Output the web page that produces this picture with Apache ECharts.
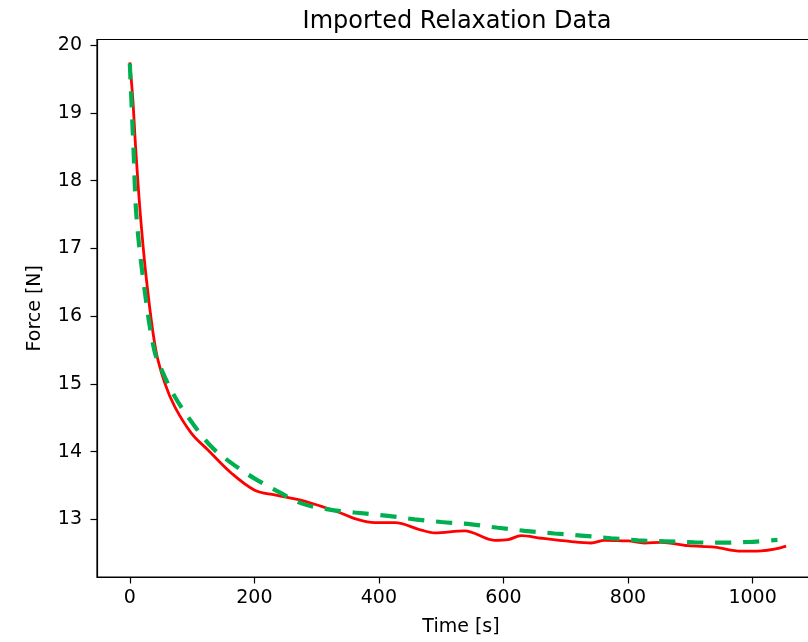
<!DOCTYPE html>
<html>
<head>
<meta charset="utf-8">
<script src="https://cdn.jsdelivr.net/npm/echarts@6/dist/echarts.min.js"></script>
<style>html,body{margin:0;padding:0;background:#fff;}#c{width:808px;height:642px;}</style>
</head>
<body>
<div id="c"></div>
<script>
const measuredTime = [0, 4.9, 9.6, 17.2, 27.3, 41.7, 56.2, 72.3, 99, 125.9, 163.3, 200.5, 232.7, 275.6, 307.7, 339.7, 361.1, 393.2, 425.3, 468.2, 489.5, 537.6, 585.8, 607.3, 628.6, 660.8, 708.9, 741, 762.3, 800, 826.5, 853.3, 896.2, 938.9, 981.8, 1013.8, 1035.2, 1054];
const measuredForce = [19.745, 19.19, 18.45, 17.47, 16.49, 15.50, 15.01, 14.66, 14.27, 14.02, 13.68, 13.43, 13.36, 13.28, 13.19, 13.09, 13.01, 12.95, 12.95, 12.84, 12.80, 12.83, 12.69, 12.70, 12.76, 12.72, 12.67, 12.65, 12.69, 12.68, 12.65, 12.66, 12.61, 12.59, 12.53, 12.535, 12.56, 12.605];
const fitTime = [0, 6, 10.7, 22.4, 39.2, 53.6, 72.3, 99, 131.1, 163.3, 200.6, 238.2, 275.6, 318.4, 361.1, 414.8, 457.4, 500.2, 548.5, 591.2, 634, 682.2, 724.9, 773, 815.8, 858.6, 906.7, 949.6, 992.5, 1040];
const fitForce = [19.73, 18.45, 17.47, 16.48, 15.50, 15.155, 14.81, 14.44, 14.07, 13.83, 13.60, 13.41, 13.235, 13.147, 13.10, 13.05, 13.00, 12.96, 12.925, 12.875, 12.83, 12.79, 12.76, 12.72, 12.69, 12.675, 12.66, 12.655, 12.665, 12.695];
const xTicks = [0, 200, 400, 600, 800, 1000];
const yTicks = [13, 14, 15, 16, 17, 18, 19, 20];

const font = 'DejaVu Sans';
const chart = echarts.init(document.getElementById('c'), null, {renderer: 'canvas'});
chart.setOption({
  animation: false,
  backgroundColor: '#fff',
  title: {
    text: 'Imported Relaxation Data',
    left: 452, textAlign: 'center', top: 5,
    textStyle: {fontFamily: font, fontSize: 24, fontWeight: 'normal', color: '#000'}
  },
  grid: {left: 97, top: 39.5, width: 722, height: 537.5, show: true, borderColor: '#000', borderWidth: 1.2, backgroundColor: 'transparent', containLabel: false, outerBoundsMode: 'none'},
  xAxis: {
    type: 'value', min: -52.7, max: 1106.7,
    name: 'Time [s]', nameLocation: 'middle', nameGap: 41,
    nameTextStyle: {fontFamily: font, fontSize: 19, color: '#000', padding: [0, 0, 0, 6]},
    axisLine: {show: true, onZero: false, lineStyle: {color: '#000', width: 1.2}},
    axisTick: {show: true, length: 6.5, lineStyle: {color: '#000', width: 1.2}, customValues: xTicks},
    axisLabel: {fontFamily: font, fontSize: 19, color: '#000', margin: 12, customValues: xTicks, formatter: v => String(v)},
    splitLine: {show: false}
  },
  yAxis: {
    type: 'value', min: 12.148, max: 20.084,
    name: 'Force [N]', nameLocation: 'middle', nameGap: 52,
    nameTextStyle: {fontFamily: font, fontSize: 19, color: '#000'},
    axisLine: {show: true, onZero: false, lineStyle: {color: '#000', width: 1.2}},
    axisTick: {show: true, length: 6.5, lineStyle: {color: '#000', width: 1.2}, customValues: yTicks},
    axisLabel: {fontFamily: font, fontSize: 19, color: '#000', margin: 15, customValues: yTicks},
    splitLine: {show: false}
  },
  series: [
    {
      type: 'line', name: 'measured',
      data: measuredTime.map((t, i) => [t, measuredForce[i]]),
      showSymbol: false, smooth: 0.35,
      lineStyle: {color: '#ff0000', width: 2.8}, z: 2
    },
    {
      type: 'line', name: 'fit',
      data: fitTime.map((t, i) => [t, fitForce[i]]),
      showSymbol: false, smooth: 0.35,
      lineStyle: {color: '#00b050', width: 4.2, type: [16, 12], cap: 'butt'}, z: 3
    }
  ]
});
</script>
</body>
</html>
